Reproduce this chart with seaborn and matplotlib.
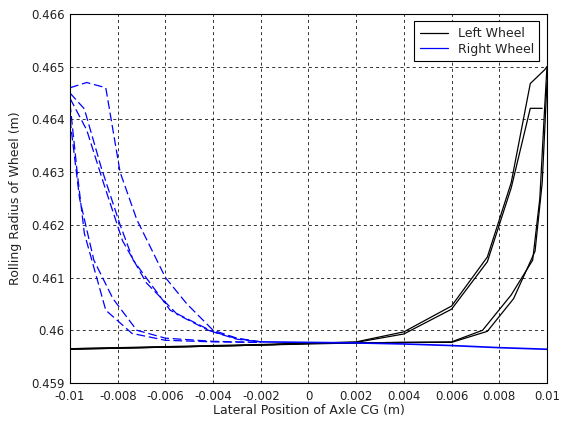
import numpy as np
import pandas as pd
import matplotlib
matplotlib.use("Agg")
import matplotlib.pyplot as plt
import seaborn as sns
from matplotlib.lines import Line2D

# ---- data ----
left_runs = {
    "L1": ([-0.01, -0.006, -0.002, 0.0, 0.002, 0.004, 0.006, 0.0075, 0.0085, 0.0093, 0.0099, 0.01],
           [0.45964, 0.45968, 0.45972, 0.45975, 0.45978, 0.45997, 0.46046, 0.46139, 0.4628, 0.46468, 0.46494, 0.4650]),
    "L2": ([-0.01, -0.006, -0.002, 0.0, 0.002, 0.004, 0.006, 0.0075, 0.0085, 0.0093, 0.0098],
           [0.45965, 0.45969, 0.45973, 0.45976, 0.45977, 0.45993, 0.46040, 0.46130, 0.4627, 0.46421, 0.46421]),
    "L3": ([-0.01, -0.006, -0.002, 0.0, 0.002, 0.004, 0.006, 0.0073, 0.0085, 0.0094, 0.0097, 0.0099, 0.01],
           [0.45964, 0.45968, 0.45972, 0.45974, 0.45976, 0.45977, 0.45978, 0.46000, 0.46067, 0.46133, 0.4625, 0.4642, 0.4650]),
    "L4": ([-0.01, -0.006, -0.002, 0.0, 0.002, 0.004, 0.006, 0.0075, 0.0086, 0.0095, 0.0098, 0.01],
           [0.45965, 0.45968, 0.45972, 0.45975, 0.45976, 0.45977, 0.45977, 0.45998, 0.4606, 0.4615, 0.4628, 0.4647]),
}
right_runs = {
    "R1": ([-0.01, -0.0093, -0.0085, -0.0079, -0.0072, -0.006, -0.0051, -0.004, -0.003, -0.002],
           [0.4646, 0.4647, 0.4646, 0.4630, 0.4621, 0.4610, 0.4605, 0.4600, 0.45985, 0.45978]),
    "R2": ([-0.01, -0.0094, -0.0087, -0.0079, -0.00735, -0.0058, -0.004, -0.003, -0.002],
           [0.4645, 0.4642, 0.4631, 0.4620, 0.46133, 0.46038, 0.45997, 0.45983, 0.45978]),
    "R3": ([-0.01, -0.0097, -0.0094, -0.0085, -0.0074, -0.006, -0.004, -0.002],
           [0.4643, 0.4630, 0.46184, 0.46038, 0.45994, 0.45981, 0.45978, 0.45977]),
    "R4": ([-0.01, -0.0096, -0.0090, -0.0082, -0.0072, -0.006, -0.004, -0.002],
           [0.4640, 0.4625, 0.46133, 0.4606, 0.4600, 0.45985, 0.45979, 0.45977]),
    "R5": ([-0.01, -0.0093, -0.0086, -0.0078, -0.0068, -0.0055, -0.0042, -0.003, -0.002],
           [0.4644, 0.4638, 0.4628, 0.4617, 0.4609, 0.4603, 0.4600, 0.45984, 0.45978]),
}
right_base_x = [-0.002, 0.0, 0.002, 0.004, 0.006, 0.008, 0.01]
right_base_y = [0.45978, 0.45977, 0.45976, 0.45974, 0.45971, 0.45967, 0.45964]

x_ticks = [-0.01, -0.008, -0.006, -0.004, -0.002, 0, 0.002, 0.004, 0.006, 0.008, 0.01]
x_labels = ["-0.01", "-0.008", "-0.006", "-0.004", "-0.002", "0", "0.002", "0.004", "0.006", "0.008", "0.01"]
y_ticks = [0.459, 0.46, 0.461, 0.462, 0.463, 0.464, 0.465, 0.466]
y_labels = ["0.459", "0.46", "0.461", "0.462", "0.463", "0.464", "0.465", "0.466"]

def to_df(runs):
    rows = []
    for k, (xs, ys) in runs.items():
        for i, (a, b) in enumerate(zip(xs, ys)):
            rows.append({"x": a, "y": b, "run": k, "i": i})
    return pd.DataFrame(rows)

df_left = to_df(left_runs)
df_right = to_df(right_runs)
df_rbase = pd.DataFrame({"x": right_base_x, "y": right_base_y})

sns.set_style("white")
plt.rcParams["font.family"] = ["DejaVu Sans"]
plt.rcParams["axes.unicode_minus"] = False

fig = plt.figure(figsize=(5.61, 4.23), dpi=100)
ax = fig.add_axes([0.1248, 0.0946, 0.8502, 0.8724])

sns.lineplot(data=df_left, x="x", y="y", units="run", estimator=None, sort=False,
             color="black", lw=0.9, ax=ax, legend=False)
sns.lineplot(data=df_right, x="x", y="y", units="run", estimator=None, sort=False,
             color="#0000ff", lw=0.9, ax=ax, legend=False, dashes=False)
for line in ax.lines[len(left_runs):]:
    line.set_dashes((7, 3))
sns.lineplot(data=df_rbase, x="x", y="y", estimator=None, sort=False,
             color="#0000ff", lw=1.2, ax=ax, legend=False)

ax.set_xlim(-0.01, 0.01)
ax.set_ylim(0.459, 0.466)
ax.set_xticks(x_ticks)
ax.set_xticklabels(x_labels)
ax.set_yticks(y_ticks)
ax.set_yticklabels(y_labels)
ax.tick_params(direction="in", length=4, labelsize=8.5, colors="black")
ax.tick_params(axis="x", pad=5)
ax.tick_params(axis="y", pad=4)
for t in ax.get_xticklabels() + ax.get_yticklabels():
    t.set_color("#222222")
ax.grid(True, color="black", linestyle=(0, (4, 4)), linewidth=0.55)
for s in ax.spines.values():
    s.set_color("black")
    s.set_linewidth(0.8)
ax.set_xlabel("Lateral Position of Axle CG (m)", fontsize=9, labelpad=1, color="#222222")
ax.set_ylabel("Rolling Radius of Wheel (m)", fontsize=9, labelpad=6, color="#222222")

handles = [Line2D([], [], color="black", lw=0.9), Line2D([], [], color="#0000ff", lw=0.9)]
leg = ax.legend(handles, ["Left Wheel", "Right Wheel"], loc="upper right", fontsize=9,
                frameon=True, fancybox=False, framealpha=1, edgecolor="black",
                borderaxespad=0.6, handlelength=2.2, handletextpad=0.8,
                labelspacing=0.2, borderpad=0.45)
leg.get_frame().set_linewidth(0.8)
for t in leg.get_texts():
    t.set_color("#222222")

fig.savefig("out.png", dpi=100)
